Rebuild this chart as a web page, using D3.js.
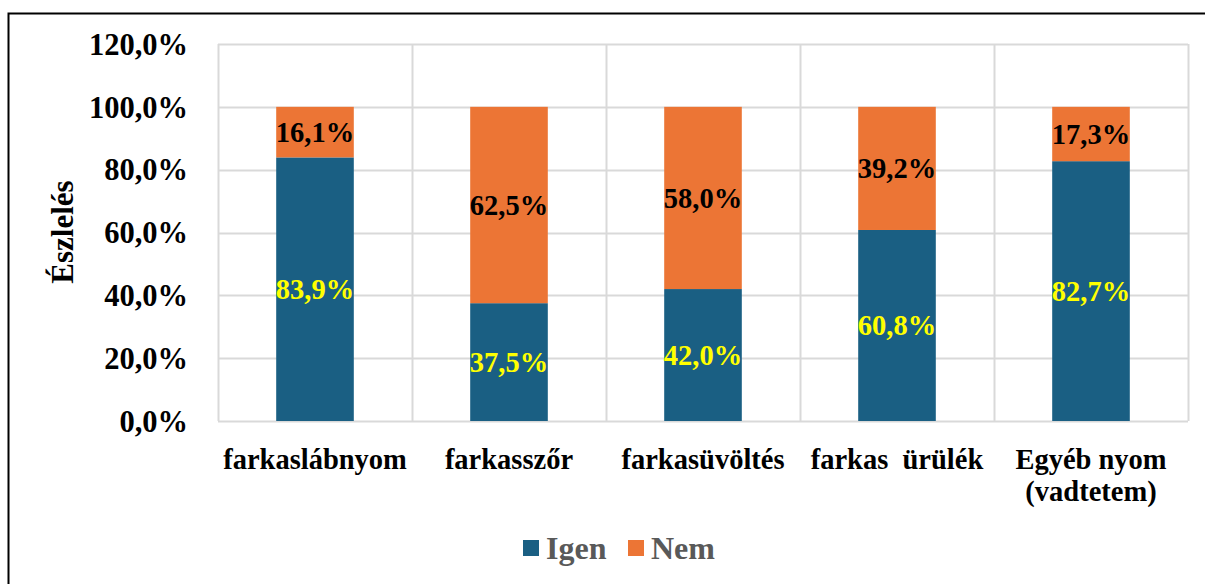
<!DOCTYPE html>
<html>
<head>
<meta charset="utf-8">
<script src="https://cdn.jsdelivr.net/npm/d3@7"></script>
<style>
  body { margin: 0; background: #fff; }
  text { font-family: "Liberation Serif", "Times New Roman", serif; font-weight: bold; }
</style>
</head>
<body>
<div id="chart"></div>
<script>
// chart data
var categories = ["farkaslábnyom", "farkasszőr", "farkasüvöltés", "farkas  ürülék", "Egyéb nyom\n(vadtetem)"];
var igen = [0.839, 0.375, 0.420, 0.608, 0.827];
var nem = [0.161, 0.625, 0.580, 0.392, 0.173];
var yTicks = [0, 0.2, 0.4, 0.6, 0.8, 1.0, 1.2];
var seriesNames = ["Igen", "Nem"];

var colors = { Igen: "#1a5f83", Nem: "#ec7535" };
var labelColors = { Igen: "#ffff00", Nem: "#000000" };

var W = 1205, H = 584;
var plot = { left: 218, right: 1188, top: 44, bottom: 421 };

var svg = d3.select("#chart")
    .append("svg")
    .attr("width", W)
    .attr("height", H);

svg.append("rect").attr("width", W).attr("height", H).attr("fill", "#fff");

// outer frame (only top and left visible)
svg.append("path")
    .attr("d", "M8.5," + H + "V13.5H" + W)
    .attr("fill", "none")
    .attr("stroke", "#000")
    .attr("stroke-width", 2);

var hu = d3.formatLocale({ decimal: ",", thousands: " ", grouping: [3], currency: ["", ""] });
var pct = hu.format(".1%");

var x = d3.scaleBand()
    .domain(categories)
    .range([plot.left, plot.right])
    .padding(0);

var y = d3.scaleLinear()
    .domain([0, 1.2])
    .range([plot.bottom, plot.top]);

// horizontal gridlines
svg.append("g")
    .selectAll("line")
    .data(yTicks)
    .enter().append("line")
    .attr("x1", plot.left)
    .attr("x2", plot.right)
    .attr("y1", d => Math.round(y(d)) + 0.5)
    .attr("y2", d => Math.round(y(d)) + 0.5)
    .attr("stroke", "#d9d9d9")
    .attr("stroke-width", 2);

// vertical gridlines at category boundaries
var bounds = categories.map(c => x(c)).concat([plot.right]);
svg.append("g")
    .selectAll("line")
    .data(bounds)
    .enter().append("line")
    .attr("x1", d => Math.round(d) + 0.5)
    .attr("x2", d => Math.round(d) + 0.5)
    .attr("y1", plot.top)
    .attr("y2", plot.bottom)
    .attr("stroke", "#d9d9d9")
    .attr("stroke-width", 2);

// y tick labels
svg.append("g")
    .selectAll("text")
    .data(yTicks)
    .enter().append("text")
    .attr("x", 188)
    .attr("y", d => y(d))
    .attr("dy", "0.35em")
    .attr("text-anchor", "end")
    .style("font-size", "30.5px")
    .attr("fill", "#000")
    .text(d => pct(d));

// y axis title
svg.append("text")
    .attr("transform", "translate(62," + 232 + ") rotate(-90)")
    .attr("dy", "0.35em")
    .attr("text-anchor", "middle")
    .style("font-size", "31px")
    .text("Észlelés");

// stacked bars
var rows = categories.map((c, i) => ({ cat: c, Igen: igen[i], Nem: nem[i] }));
var stack = d3.stack().keys(seriesNames)(rows);
var barW = x.bandwidth() * 0.4;

var layers = svg.append("g")
    .selectAll("g")
    .data(stack)
    .enter().append("g")
    .attr("fill", d => colors[d.key]);

layers.selectAll("rect")
    .data(d => d.map(p => ({ key: d.key, p: p })))
    .enter().append("rect")
    .attr("x", d => x(d.p.data.cat) + (x.bandwidth() - barW) / 2)
    .attr("y", d => y(d.p[1]))
    .attr("width", barW)
    .attr("height", d => y(d.p[0]) - y(d.p[1]));

// data labels
layers.selectAll("text")
    .data(d => d.map(p => ({ key: d.key, p: p })))
    .enter().append("text")
    .attr("x", d => x(d.p.data.cat) + x.bandwidth() / 2)
    .attr("y", d => y((d.p[0] + d.p[1]) / 2))
    .attr("dy", "0.35em")
    .attr("text-anchor", "middle")
    .style("font-size", "28.5px")
    .attr("fill", d => labelColors[d.key])
    .text(d => pct(d.p[1] - d.p[0]));

// category labels
var xl = svg.append("g")
    .selectAll("text")
    .data(categories)
    .enter().append("text")
    .attr("x", d => x(d) + x.bandwidth() / 2)
    .attr("y", 459)
    .attr("text-anchor", "middle")
    .style("font-size", "28.5px")
    .style("white-space", "pre")
    .attr("fill", "#000");

xl.selectAll("tspan")
    .data(d => d.split("\n"))
    .enter().append("tspan")
    .attr("x", function () { return d3.select(this.parentNode).attr("x"); })
    .attr("dy", (d, i) => i === 0 ? "0.35em" : "32px")
    .text(d => d);

// legend
var legend = svg.append("g").attr("class", "legend");
var legendX = [523, 628];
seriesNames.forEach(function (s, i) {
    legend.append("rect")
        .attr("x", legendX[i])
        .attr("y", 540)
        .attr("width", 16)
        .attr("height", 16)
        .attr("fill", colors[s]);
    legend.append("text")
        .attr("x", legendX[i] + 23)
        .attr("y", 548)
        .attr("dy", "0.35em")
        .style("font-size", "32px")
        .attr("fill", "#595959")
        .text(s);
});
</script>
</body>
</html>
